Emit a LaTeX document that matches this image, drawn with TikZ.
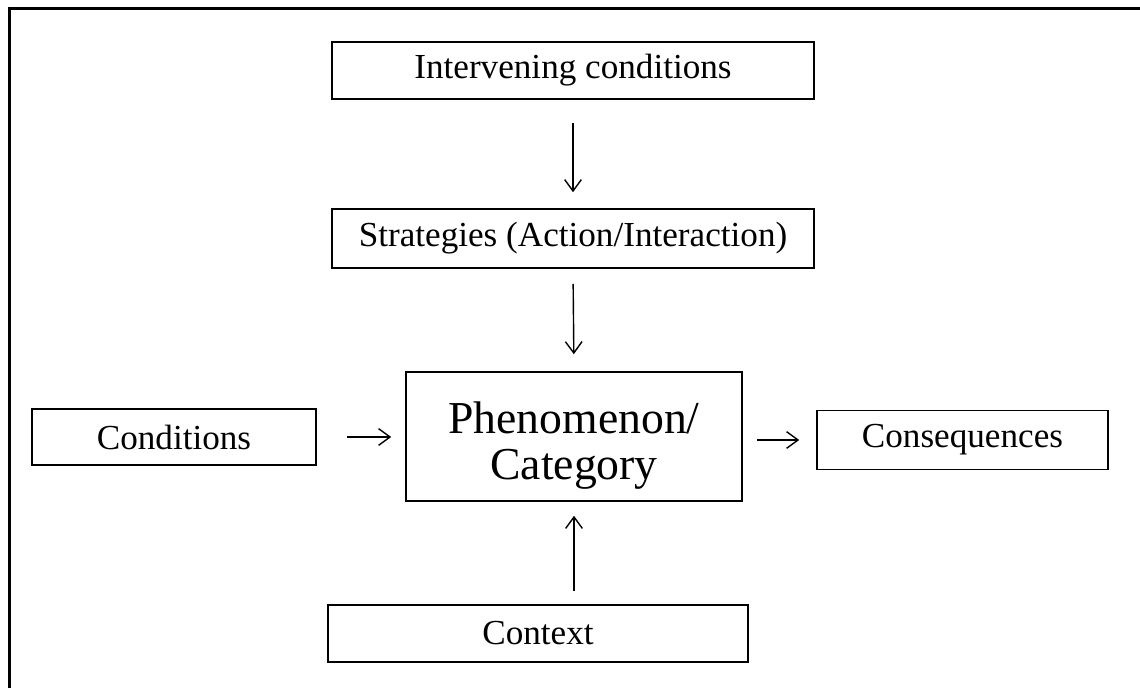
\documentclass[tikz,border=0pt]{standalone}
\usepackage{fontspec}
\setmainfont{Liberation Serif}
\usepackage{tikz}
\usetikzlibrary{arrows.meta,calc}

\begin{document}
\begin{tikzpicture}[
    box/.style={draw, line width=0.9pt, rectangle, inner sep=0pt,
        font=\fontsize{20}{24}\selectfont},
    link/.style={line width=0.8pt, -{Straight Barb[length=6.5pt,width=9.5pt]}}
  ]
    \useasboundingbox (0,0) rectangle (22.8,13.76);

    % frame, cut off on the right and below
    \draw[line width=1.2pt] (0.19,0) -- (0.19,13.59) -- (22.8,13.59);

    \node[box, minimum width=9.64cm, minimum height=1.14cm] (inter) at (11.46,12.35) {Intervening conditions};
    \node[box, minimum width=9.64cm, minimum height=1.18cm] (strat) at (11.46,8.99) {Strategies (Action/Interaction)};
    \node[box, minimum width=6.72cm, minimum height=2.58cm, align=center,
        font=\fontsize{26}{26}\selectfont] (phen) at (11.48,5.03) {\rule{0pt}{1.0cm}Phenomenon/\\Category};
    \node[box, minimum width=8.4cm, minimum height=1.14cm] (ctx) at (10.76,1.09) {Context};
    \node[box, minimum width=5.68cm, minimum height=1.12cm] (cond) at (3.48,5.02) {Conditions};
    \node[box, minimum width=5.82cm, minimum height=1.18cm] (cons) at (19.25,4.96) {Consequences};

    \draw[link, shorten <=0.46cm, shorten >=0.32cm] (inter.south) -- (strat.north);
    \draw[link, shorten <=0.3cm, shorten >=0.34cm] (strat.south) -- (phen.north);
    \draw[link, shorten <=0.26cm, shorten >=0.28cm] (ctx.north -| phen.south) -- (phen.south);
    \draw[link, shorten <=0.6cm, shorten >=0.28cm] (cond.east) -- (cond.east -| phen.west);
    \draw[link, shorten <=0.28cm, shorten >=0.34cm] (cons.west -| phen.east) -- (cons.west);
\end{tikzpicture}
\end{document}
